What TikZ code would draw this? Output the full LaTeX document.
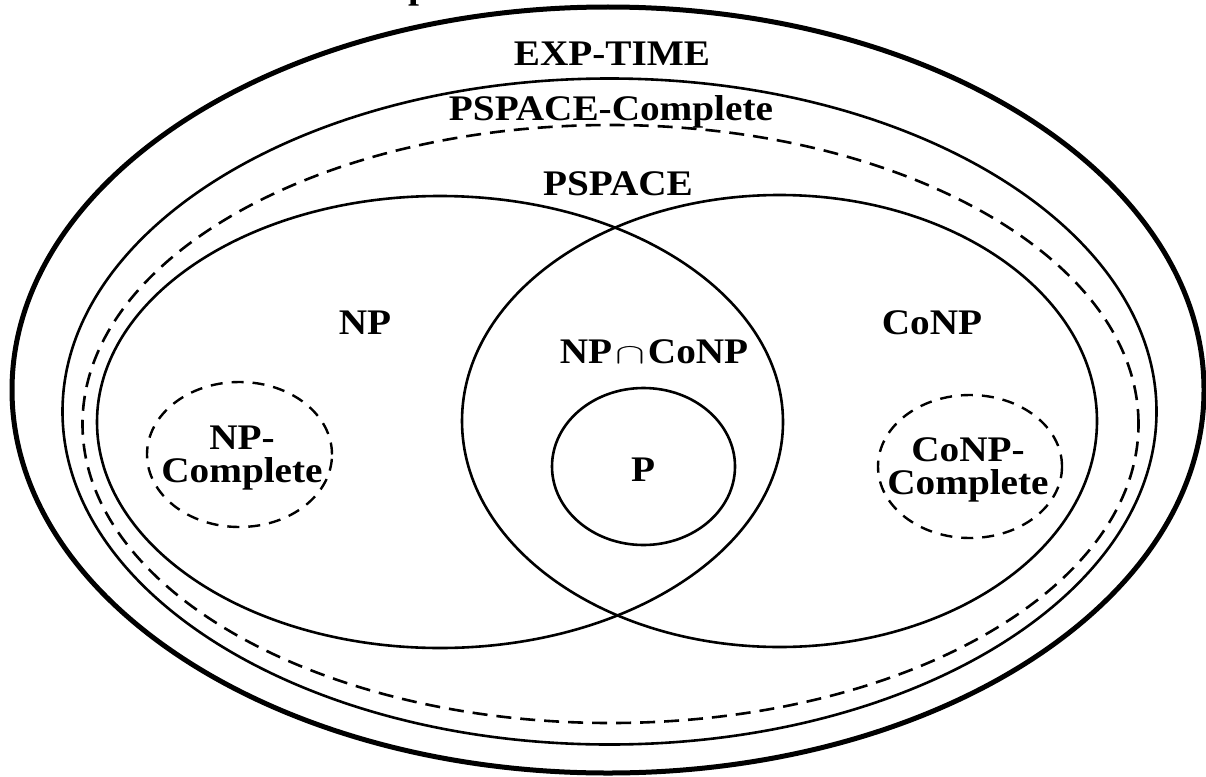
\documentclass[tikz,border=0pt]{standalone}
\usepackage{fontspec}
\setmainfont{Liberation Serif}
\newfontfamily\lblfont[FakeStretch=1.09]{Liberation Serif}
\begin{document}
\begin{tikzpicture}[x=1pt,y=-1pt,
  boundary/.style={line width=2.6pt},
  outerline/.style={line width=5pt},
  dashline/.style={line width=2.6pt, dash pattern=on 15pt off 9pt},
  smalldash/.style={line width=2.4pt, dash pattern=on 12pt off 9pt},
  lbl/.style={font=\lblfont\bfseries\fontsize{36}{33}\selectfont, inner sep=0pt, align=center}]
\useasboundingbox (0,0) rectangle (1206,776);
\fill[white] (0,0) rectangle (1206,776);

% title fragment above the frame
\begin{scope}
  \clip (0,0) rectangle (1206,776);
  \node[lbl, anchor=base west] (titlefrag) at (408,-1) {p};
\end{scope}

% nested complexity classes
\draw[outerline] (608,390) ellipse [x radius=596pt, y radius=383pt];
\draw[boundary] (609.5,411.5) ellipse [x radius=547pt, y radius=333pt];
\draw[dashline] (610.5,424) ellipse [x radius=528pt, y radius=299pt];

% NP and CoNP
\draw[boundary] (440,422) ellipse [x radius=343pt, y radius=226pt];
\draw[boundary] (779.5,421) ellipse [x radius=317.5pt, y radius=226pt];

% P
\draw[boundary] (643.5,466.5) ellipse [x radius=91.5pt, y radius=78.5pt];

% complete subsets
\draw[smalldash] (239.5,454.5) ellipse [x radius=92.5pt, y radius=72.5pt];
\draw[smalldash] (970,466.5) ellipse [x radius=92pt, y radius=71.5pt];

% labels
\node[lbl] (exptime) at (612,54) {EXP-TIME};
\node[lbl, anchor=base] (pspacec) at (611,120) {PSPACE-Complete};
\node[lbl] (pspace) at (618,184) {PSPACE};
\node[lbl] (np) at (365,323) {NP};
\node[lbl] (conp) at (932,323) {CoNP};
\node[lbl] (npconp) at (654,352) {NP\kern3pt\scalebox{1.8}[1.15]{$\cap$}\kern3pt CoNP};
\node[lbl] (p) at (643,470) {P};
\node[lbl] (npc) at (242,458) {NP-\\Complete};
\node[lbl] (conpc) at (968,470) {CoNP-\\Complete};
\end{tikzpicture}
\end{document}
